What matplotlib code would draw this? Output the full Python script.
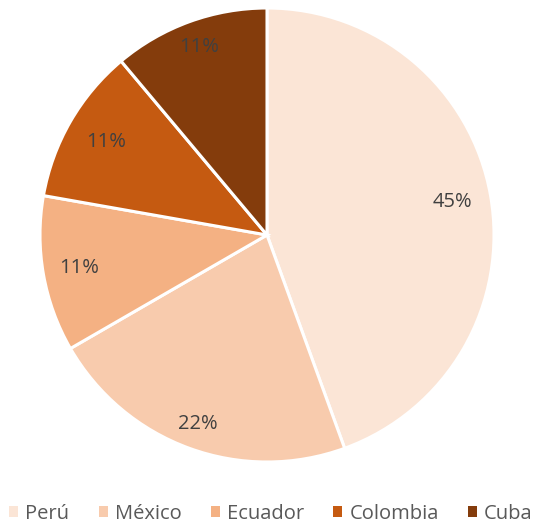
import matplotlib
matplotlib.use("Agg")
import matplotlib.pyplot as plt
import numpy as np
from matplotlib.patches import Patch

categories = ["Perú", "México", "Ecuador", "Colombia", "Cuba"]
values = [4, 2, 1, 1, 1]
labels = ["45%", "22%", "11%", "11%", "11%"]
colors = ["#FBE5D6", "#F8CBAD", "#F4B183", "#C55A11", "#843C0C"]

plt.rcParams['font.family'] = ['Open Sans', 'DejaVu Sans']

W, H = 536, 527
fig = plt.figure(figsize=(W/100, H/100), dpi=100)
cx, cy, r = 267, 235, 227
ax = fig.add_axes([(cx - r)/W, (H - cy - r)/H, 2*r/W, 2*r/H])
wedges, _ = ax.pie(values, colors=colors, startangle=90, counterclock=False,
                   wedgeprops=dict(edgecolor="white", linewidth=2.2), radius=1)
ax.set_xlim(-1, 1)
ax.set_ylim(-1, 1)
ax.set_aspect('auto')
ax.axis('off')

label_dist = [0.83, 0.885, 0.84, 0.82, 0.88]
for w, lab, d in zip(wedges, labels, label_dist):
    ang = np.deg2rad((w.theta1 + w.theta2) / 2)
    ax.text(d*np.cos(ang), d*np.sin(ang), lab, ha='center', va='center',
            fontsize=14.5, color='#404040')

handles = [Patch(facecolor=c, edgecolor='none') for c in colors]
fig.legend(handles, categories, loc='center', bbox_to_anchor=(271/W, 1 - 514/H),
           ncol=5, frameon=False, fontsize=14.5, handlelength=0.45, handleheight=0.45,
           handletextpad=0.35, columnspacing=1.45, labelcolor='#595959',
           borderaxespad=0, borderpad=0)

fig.savefig("out.png", dpi=100)
